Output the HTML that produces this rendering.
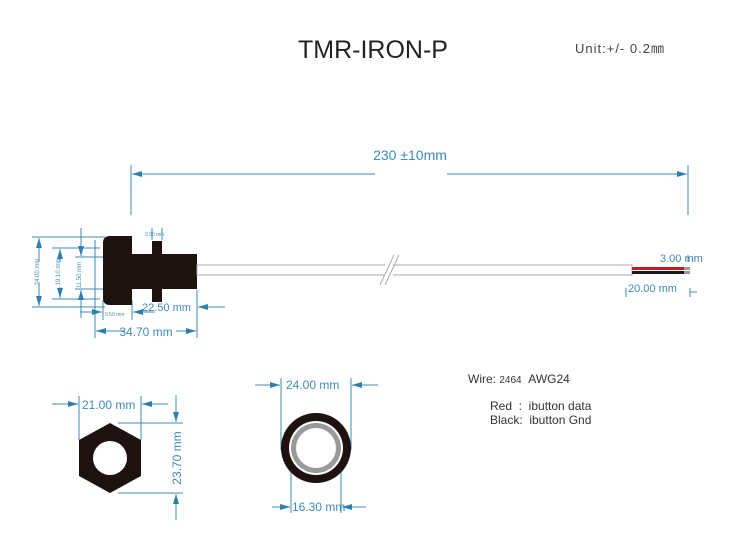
<!DOCTYPE html>
<html><head><style>
html,body{margin:0;padding:0;background:#fff;}
svg{display:block;}
text{font-family:"Liberation Sans",Arial,sans-serif;white-space:pre;}
</style></head><body>
<svg width="750" height="553" viewBox="0 0 750 553" xmlns="http://www.w3.org/2000/svg">
<defs>
<marker id="a" viewBox="0 0 10 6" refX="10" refY="3" markerWidth="10" markerHeight="6" orient="auto" markerUnits="userSpaceOnUse"><path d="M0,0L10,3L0,6z" fill="#2d7fb0"/></marker>
</defs>
<rect width="750" height="553" fill="#fff"/>
<text x="298" y="58" font-size="25" fill="#222">TMR-IRON-P</text>
<text x="575" y="53" font-size="13" fill="#444" letter-spacing="1">Unit:+/- 0.2㎜</text>

<g stroke="#3f8ab8" stroke-width="1" fill="none">
<line x1="131" y1="165" x2="131" y2="215"/>
<line x1="688" y1="165" x2="688" y2="215"/>
<line x1="375" y1="174" x2="132" y2="174" marker-end="url(#a)"/>
<line x1="447" y1="174" x2="687" y2="174" marker-end="url(#a)"/>
<line x1="32" y1="237" x2="105" y2="237"/>
<line x1="32" y1="307" x2="105" y2="307"/>
<line x1="52" y1="248" x2="100" y2="248"/>
<line x1="52" y1="299" x2="100" y2="299"/>
<line x1="75" y1="257" x2="132" y2="257"/>
<line x1="75" y1="289" x2="132" y2="289"/>
<line x1="39" y1="262" x2="39" y2="238" marker-end="url(#a)"/>
<line x1="39" y1="282" x2="39" y2="306" marker-end="url(#a)"/>
<line x1="60" y1="262" x2="60" y2="249" marker-end="url(#a)"/>
<line x1="60" y1="287" x2="60" y2="298" marker-end="url(#a)"/>
<line x1="81" y1="228" x2="81" y2="256" marker-end="url(#a)"/>
<line x1="81" y1="318" x2="81" y2="290" marker-end="url(#a)"/>
<line x1="95" y1="240" x2="95" y2="338"/>
<line x1="197" y1="290" x2="197" y2="338"/>
<line x1="125" y1="331" x2="96" y2="331" marker-end="url(#a)"/>
<line x1="176" y1="331" x2="196" y2="331" marker-end="url(#a)"/>
<line x1="103" y1="300" x2="103" y2="320"/>
<line x1="132" y1="300" x2="132" y2="320"/>
<line x1="80" y1="312" x2="102" y2="312" marker-end="url(#a)"/>
<line x1="155" y1="312" x2="133" y2="312" marker-end="url(#a)"/>
<line x1="225" y1="307" x2="198" y2="307" marker-end="url(#a)"/>
<line x1="152" y1="228" x2="152" y2="240"/>
<line x1="162" y1="228" x2="162" y2="240"/>
<line x1="688" y1="255" x2="688" y2="262"/>
<line x1="690" y1="288" x2="690" y2="297"/>
<line x1="626" y1="288" x2="626" y2="297"/>
<line x1="690" y1="292" x2="697" y2="292"/>
<line x1="79" y1="396" x2="79" y2="440"/>
<line x1="141" y1="396" x2="141" y2="440"/>
<line x1="52" y1="404" x2="78" y2="404" marker-end="url(#a)"/>
<line x1="168" y1="404" x2="142" y2="404" marker-end="url(#a)"/>
<line x1="118" y1="423" x2="183" y2="423"/>
<line x1="118" y1="493" x2="183" y2="493"/>
<line x1="176" y1="395" x2="176" y2="422" marker-end="url(#a)"/>
<line x1="176" y1="520" x2="176" y2="494" marker-end="url(#a)"/>
<line x1="281" y1="378" x2="281" y2="450"/>
<line x1="351" y1="378" x2="351" y2="450"/>
<line x1="255" y1="385" x2="280" y2="385" marker-end="url(#a)"/>
<line x1="378" y1="385" x2="352" y2="385" marker-end="url(#a)"/>
<line x1="291" y1="460" x2="291" y2="513"/>
<line x1="341" y1="460" x2="341" y2="513"/>
<line x1="272" y1="507" x2="290" y2="507" marker-end="url(#a)"/>
<line x1="366" y1="507" x2="342" y2="507" marker-end="url(#a)"/>
</g>
<g fill="#3f8ab8">
<text x="410" y="160" font-size="14" text-anchor="middle">230 ±10mm</text>
<text x="39" y="272" font-size="6" text-anchor="middle" transform="rotate(-90 39 272)">24.00 mm</text>
<text x="60" y="272" font-size="6" text-anchor="middle" transform="rotate(-90 60 272)">19.10 mm</text>
<text x="81" y="275" font-size="6" text-anchor="middle" transform="rotate(-90 81 275)">11.50 mm</text>
<text x="146" y="336" font-size="12" text-anchor="middle">34.70 mm</text>
<text x="105" y="316" font-size="5">9.50 mm</text>
<text x="142" y="311" font-size="11">22.50 mm</text>
<text x="145" y="236" font-size="5">3.00 mm</text>
<text x="660" y="262" font-size="11">3.00 mm</text>
<text x="628" y="292" font-size="11">20.00 mm</text>
<text x="82" y="409" font-size="12">21.00 mm</text>
<text x="181" y="458" font-size="12" text-anchor="middle" transform="rotate(-90 181 458)">23.70 mm</text>
<text x="286" y="389" font-size="12">24.00 mm</text>
<text x="292" y="511" font-size="12">16.30 mm</text>
</g>

<path d="M110,236 H132 V305 H110 Q103,305 103,298 V243 Q103,236 110,236 Z" fill="#1e1210"/>
<rect x="131" y="254" width="66" height="35" fill="#1e1210"/>
<rect x="152" y="241" width="10" height="61" fill="#1e1210"/>
<rect x="197" y="265" width="435" height="10" fill="#fff" stroke="#aaa" stroke-width="1"/>
<rect x="385" y="255" width="8" height="30" fill="#fff"/>
<line x1="380" y1="285" x2="394" y2="255" stroke="#aaa"/>
<line x1="385" y1="285" x2="399" y2="255" stroke="#aaa"/>
<rect x="632" y="267" width="53" height="3" fill="#c8191e"/>
<rect x="632" y="271" width="53" height="3" fill="#1a1a1a"/>
<rect x="684" y="267" width="6" height="3" fill="#999"/>
<rect x="684" y="271" width="6" height="3" fill="#999"/>

<polygon points="110,423 141,440 141,476 110,493 79,476 79,440" fill="#1e1210"/>
<circle cx="110" cy="458" r="17" fill="#fff"/>
<circle cx="316" cy="448" r="35" fill="#1e1210"/>
<circle cx="316" cy="448" r="27" fill="#fff"/>
<circle cx="316" cy="448" r="25" fill="#9a9a9a"/>
<circle cx="316" cy="448" r="20" fill="#fff"/>

<g fill="#333">
<text x="468" y="383" font-size="12">Wire: <tspan font-size="10">2464</tspan>&#160;&#160;AWG24</text>
<text x="490" y="410" font-size="12">Red&#160;&#160;:&#160;&#160;ibutton data</text>
<text x="490" y="424" font-size="12">Black:&#160;&#160;ibutton Gnd</text>
</g>
</svg>
</body></html>
